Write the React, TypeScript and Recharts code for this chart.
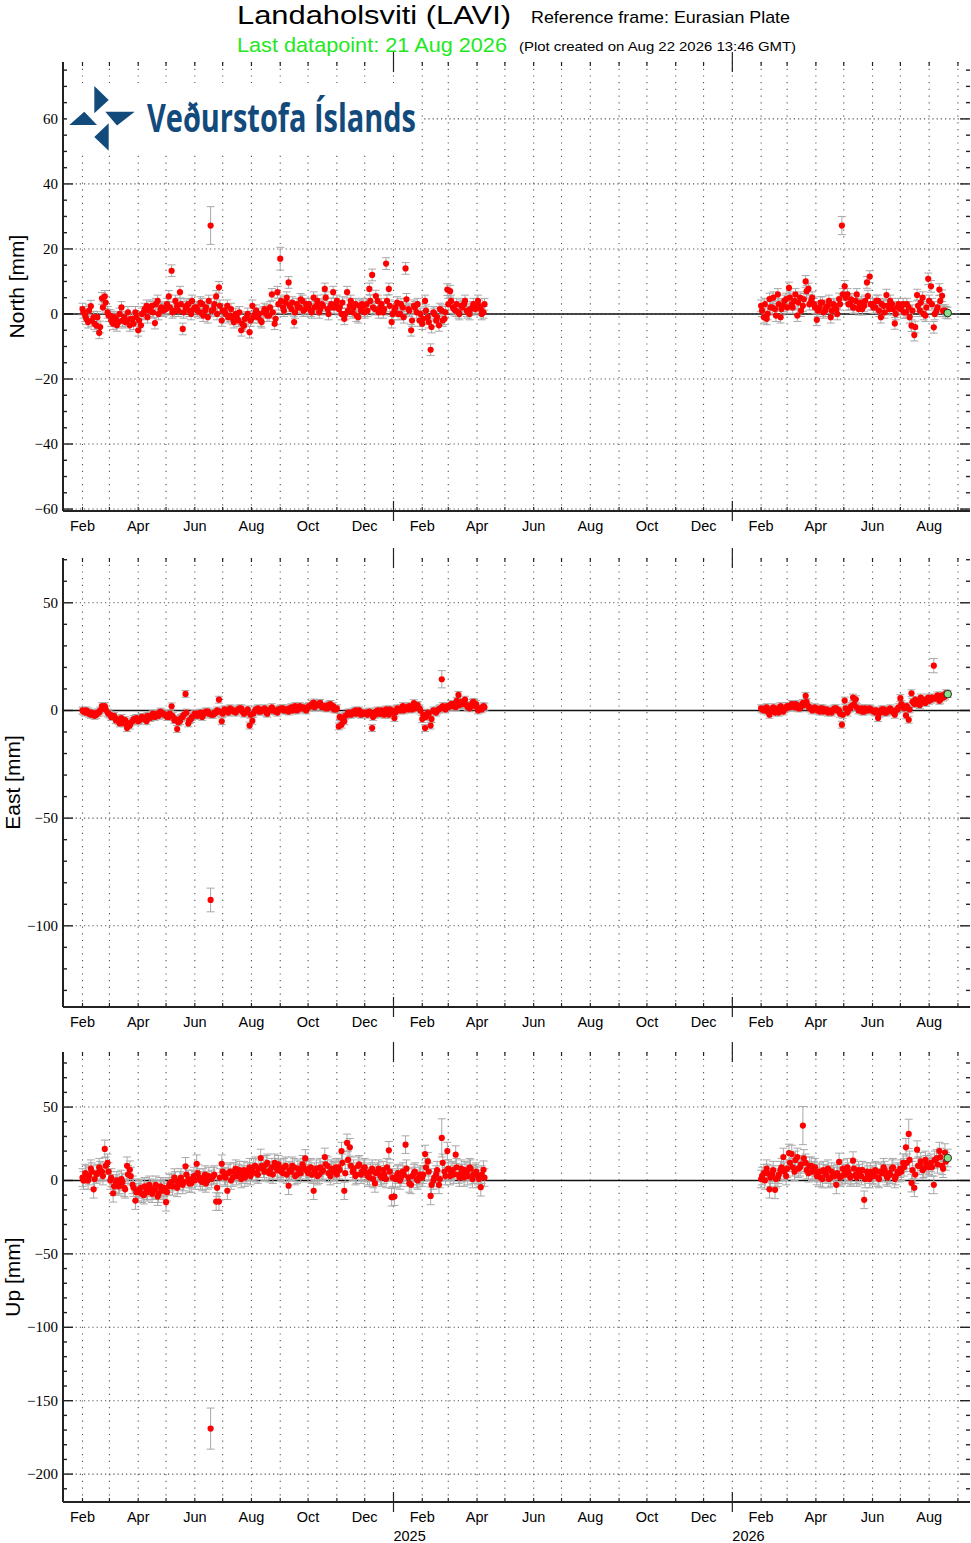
import React from 'react';
import { ScatterChart, Scatter, XAxis, YAxis, ReferenceLine, ErrorBar } from 'recharts';

// ---- time axis ----
const MONTH_NAMES = ['Jan', 'Feb', 'Mar', 'Apr', 'May', 'Jun', 'Jul', 'Aug', 'Sep', 'Oct', 'Nov', 'Dec'];
const SHOWN_MONTHS = ['Feb', 'Apr', 'Jun', 'Aug', 'Oct', 'Dec'];
const X_START = '2024-01-11';
const X_END = '2026-09-14';
const SEG_A_START = '2024-02-01';
const SEG_A2_START = '2024-02-02';
const SEG_B_START = '2026-02-01';
const SEG_B2_START = '2026-02-02';
const STEP_DAYS = 3;
const LAST_DATE = '2026-08-21';

// ---- North [mm] ----
const northA = [
  1.5, -0.5, -2.5, 2.4, -1, -3.6, -5.8, 4.8, 5.4, 0.5,
  -0.5, -3, -1.5, -2.5, 2, -1, -2, -3.5, -1.5, 0.5,
  -5, -3.5, 0.5, 2.5, 1, 2.5, -2.8, 4, 1.5, 1,
  1.5, 5.4, 13.3, 1, 2.5, 6.7, -4.6, 2, 3, 0, 1.5,
  2, 0.5, 3, 1, -1, 27.2, 1.5, 5.4, 8.2, -2,
  1, 2.5, -0.5, -1.5, 0, -2, -5, -3.6, -1, -5.6,
  2.5, 0, -1, -2, 0.5, 1, -0.5, 6, -3, 6.7,
  17, 2, 3.5, 9.7, 1.5, -2.5, 3, 2, 4, 1.5,
  2, 1, 5, 2.5, 0.5, 3, 7.7, 1.5, 2, 6.7, 3,
  1.5, 0, -1.5, 6.7, 2.5, 0.5, 3, -1, 1, 2.5,
  3, 7.7, 12, 1.5, 4, 2, 0.5, 15.5, 7.7, -2.5,
  1, 3.5, 0, 2, 14, 1.5, -5, 2.5, 0.5, -2,
  -3, 4, -1, -11, 0.5, -2, -3.5, 1, -1.5, 7.5,
  7, 2, 1, 0.5, 2.5, 3, 1, 0, 2, 1.5,
  4, 1.5, 0.5,
];
const northA2 = [
  0.5, -1.5, 1, -2, -3, -1, -4, 2, 3.5, -0.5,
  -2, -1, -3.5, 0, -2, -2.5, 0.5, -1.5, -3, -1,
  -2, 0, 1.5, -1, 2, 0.5, 3, 0, 2, 1.5,
  3, 2, 0.5, 4, 1, 3, 0.5, 2.5, 1, 4, 2,
  1, 3.5, -0.5, 2, 4, 1, 3, 0, 2.5, 1,
  0, -1, 1.5, -2.5, -1, 0.5, -3, -1.5, 0, -2,
  -1, 1, 0, -2.5, 1.5, -0.5, 2, 0.5, -1.5, 3,
  4, 1, 5, 2.5, 3.5, 0.5, 2, 4.5, 1, 3,
  3, 0.5, 2, 4, 1.5, 2.5, 5, 0, 3, 2, 4,
  2, 3.5, 0, 1, 4, 2, -0.5, 2.5, 3, 0.5,
  1, 4, 2, 5.5, 0.5, 3, 1.5, 4, 2.5, 0,
  2, 0, 3, -1, 4.5, 1, -2, 2, 3, 0,
  -1.5, 1, -2.5, -4, 0, -1, 1.5, -2, 0.5, 3,
  4, 1.5, 3, 0, 2, 4, 0.5, 1.5, 3, 2,
  2.5, 0, 3,
];
const northB = [
  2.5, -1, -1.5, 4.6, 2, 1.5, 6, -1, 2.5, 4.6,
  8, 3, 4, -0.5, 5, 2.5, 10, 7.7, 4, 3,
  -1.8, 2, 3.5, 1, 2.5, -1, 3, 1.5, 4.6, 27.2,
  8.5, 6, 3, 2, 4, 1.5, 3.5, 2.5, 9.7, 11.5,
  3, 2, 4, -1, 2.5, 5.8, 1.5, 3, -2.9, 2,
  1.5, 3, 0.5, 2, -3.6, -6.5, 5.8, 1, 5, -0.5, 10.8,
  8.5, -4.1, 1, 7.5, 5.6, 1,
];
const northB2 = [
  1, 3, 0, 2, 5, -0.5, 3, 1.5, 4, 2,
  5, 2, 6, 3.5, 1, 4.5, 7, 3, 5, 2,
  1, 3.5, 0.5, 2, 4, 1, 2.5, 0, 3, 6,
  5, 3, 4.5, 2, 6, 3, 1.5, 4, 5.5, 3,
  2, 4, 1, 3, 0.5, 2.5, 4, 1.5, 0, 3,
  2, 0.5, 3, -1, 1, -4, 2.5, 3.5, 0, 2, 4,
  3, 0, 2, 4, 1, 0.5,
];

// ---- East [mm] ----
const eastA = [
  0, -1, -0.5, -2, -1.5, -2, -1, 2, 2, -1,
  -2, -3, -4.5, -5, -3.5, -6, -8.2, -7, -5, -4,
  -5, -4, -3.5, -5, -3, -2, -3, -1.5, -0.5, -1.5,
  -2, -3, 1.9, -4.5, -8.6, -5, -3, 7.7, -6, -4, -2.5,
  -1.5, -2, -3, -1, -0.5, -88, -2, -1, 5, -5,
  0.5, -0.5, 1, 0, -1, 0.5, 1, -1.5, -0.5, -7,
  -4.8, 0, 1, -0.5, 0.5, -1, 0, 1.5, 0, -1,
  0.5, 1, 0, -0.5, 1.5, 1, 0, 2, 1, 0.5,
  1.5, 2, 3.7, 2.5, 3, 1.5, 2, 1, 3, 2, 0.5,
  -7.4, -6.6, -5, -2, -1, -1.5, 0, -0.5, -2, -1,
  -1, -0.5, -8.2, -2, 0, -1.5, -1, 0.5, -2, 0,
  -3.5, 1, 0, 2, 1, 0.5, 1.5, 3.4, 2, 1,
  -4, -8.2, -1, -7, 0, -1, 0.5, 14.5, 1, 2,
  2, 3, 1.5, 7.2, 4, 3, 2.5, 1, 3.5, 2,
  0, 1, 2,
];
const eastA2 = [
  -0.5, 0, -1.5, -1, -2.5, -1, 0, 1, 0.5, -1.5,
  -3, -2.5, -4, -6, -5, -4.5, -6.5, -5.5, -4, -3.5,
  -4.5, -3, -4, -2.5, -3.5, -1.5, -2, -2.5, -1, -2,
  -3, -1.5, -2.5, -4, -5.5, -3.5, -2, -1, -4.5, -3, -1.5,
  -2.5, -1, -2, -0.5, -1.5, -2, -1, 0, -0.5, -1.5,
  0, -1, 0.5, -0.5, 0, 1, -0.5, -1, 0.5, -2,
  -1.5, 0.5, -0.5, 0, 1, -1.5, 0.5, 0, -0.5, 0.5,
  1, 0, 0.5, 1, 0, 2, 0.5, 1, 1.5, 0,
  2, 3, 1.5, 2.5, 3.5, 2, 1, 2.5, 1.5, 0.5, 1,
  -3, -4, -2.5, -1, -2, -0.5, -1.5, 0, -1, -1.5,
  -2, -1, -3, -0.5, -1.5, 0, -2, -1, 0.5, -1,
  -1, 0.5, 1, 0, 1.5, 2, 0.5, 1, 2.5, 0,
  -2, -3, -1.5, -4, -0.5, 0, 1, 2, 0.5, 1.5,
  3, 2, 4.5, 2.5, 3, 5, 1.5, 2, 4, 3,
  1, 0.5, 1.5,
];
const eastB = [
  1, 0, 1.5, -2, 0.5, -1, 1, 2, -0.5, 1,
  2, 3, 1.5, 2.5, 1, 3.5, 6.8, 2, 1, 0.5,
  0.5, -0.5, 1, 0, -1, -0.5, 0.5, 1, 0, -6.6,
  4.6, -1, 1, 6, 5.2, 0, 1, -0.5, 0.5, 1,
  0, -1, -3.5, -0.5, 0.5, -1, 0, -0.5, -2, 0.5,
  5.7, 2, -2.3, -4.3, 8, 3, 4, 2.5, 5, 3.5, 6,
  5, 20.8, 6, 4.5, 7, 6.5,
];
const eastB2 = [
  0.5, 1, -0.5, 0, 1.5, 0, -1, 0.5, 1, 2,
  1.5, 2.5, 3, 1, 2, 2.5, 4, 1, 0, 1.5,
  0, 1, -0.5, 0.5, 0, -1, 1, 0, -1.5, -2,
  1, 0.5, 2, 3, 1.5, 0.5, -0.5, 1, 0, 0.5,
  -0.5, 0, -1.5, 0.5, -1, 0, 1, -0.5, 0, 1.5,
  3, 1, 2, 0.5, 4, 5, 3, 6, 4, 5, 4.5,
  6, 5.5, 7, 5, 6, 8,
];

// ---- Up [mm] ----
const upA = [
  2, 5, 0, 8, -6, 4, 9, 6, 21.5, 12,
  0, -8.7, -2, -4, 1, -5, 10, 7.3, -3, -13.7,
  -8, -5, -10, -7, -3, -9, -6, -11, -4, -7,
  -14.8, -4, -1, 2, -5, 0, -3, 9.6, 1, -2, 3,
  11.4, 2, -1, 4, 0, -169, 3, -14.4, -14.4, 11.4,
  3, -7, 6, 2, 8, 5, 1, 7, 4, 9,
  6, 10, 4, 15.3, 8, 11, 5, 9, 12, 7,
  8, 5, 10, -3.6, 6, 9, 4, 7, 11, 15,
  5, 9, -7, 8, 4, 6, 16, 10, 3, 7, 9,
  9, 20, -7, 25.6, 22.6, 6, 3, 10, 4, 8,
  5, 2, 8, -2, 6, 3, 7, 1, 20.5, -11.4,
  -11, 4, 0, 6, 24.4, 2, -3, 5, 1, 3,
  2, 18, 13, -10.5, 0, 4, -3, 29, 6, 20,
  3, 7, 17.6, 4, 8, 2, 6, 9, 1, 5,
  3, -4.6, 7.3,
];
const upA2 = [
  0, 4, 3, 6, 1, 5, 7, 3, 10, 6,
  2, -4, 0, -3, -1, -6, 4, 3, -5, -8,
  -6, -9, -4, -8, -5, -7, -3, -9, -6, -5,
  -8, -2, -4, 0, -3, 2, -1, 4, -2, 1, 0,
  5, 0, 2, -2, 3, 1, 4, -5, 2, 6,
  2, 5, 0, 6, 3, 7, 4, 2, 6, 3,
  9, 5, 8, 10, 6, 12, 7, 4, 9, 11,
  6, 9, 4, 7, 10, 3, 8, 5, 9, 7,
  8, 4, 6, 3, 9, 7, 11, 5, 8, 6, 4,
  7, 12, 5, 14, 10, 8, 4, 11, 6, 9,
  3, 6, 1, 5, 8, 2, 4, 9, 6, 2,
  1, 5, 2, 4, 8, -2, 3, 6, 0, 4,
  4, 9, 6, -3, 2, 7, 1, 12, 3, 8,
  6, 4, 9, 2, 5, 7, 3, 8, 4, 6,
  1, 4, 2,
];
const upB = [
  1, 5, 8, -6, 4, -6.4, 2, 7, 16, 3,
  18.7, 18, 6, 16, 9, 37.4, 12, 5, 10, 7,
  3, 6, 1, 5, 8, 2, 4, -3, 12.6, 3,
  5, 9, 2, 13.5, 4, 7, 3, -13.2, 6, 1,
  4, 7, 2, 6, 9, 3, 5, 8, 1, 6,
  8, 12, 22.6, 31.7, -1.8, -5, 21, 10, 7, 14, 9,
  12, -3, 15, 20, 10, 19,
];
const upB2 = [
  3, 0, 5, 2, 7, 1, 4, 9, 6, 8,
  12, 9, 14, 8, 11, 15, 7, 10, 6, 9,
  5, 2, 7, 4, 1, 6, 3, 5, 2, 8,
  4, 6, 3, 8, 2, 5, 7, 1, 4, 6,
  3, 6, 1, 5, 7, 2, 4, 9, 3, 5,
  6, 9, 12, 14, 7, 4, 10, 13, 8, 11, 10,
  9, 14, 11, 16, 8, 13,
];

// last datapoint (green) and error bar half-widths
const lastNorth = 0.3;
const lastEast = 7.6;
const lastUp = 15.3;
const northErr = 1.8;
const eastErr = 1.6;
const upErr = 6;
const northErrWide: [string, number][] = [['2024-06-18', 5.8], ['2024-09-01', 3.5], ['2026-04-29', 2.8]];
const eastErrWide: [string, number][] = [['2024-06-18', 5.5], ['2025-02-22', 4], ['2026-08-06', 3.3]];
const upErrWide: [string, number][] = [['2024-06-18', 14], ['2025-02-22', 13], ['2026-03-18', 13], ['2026-07-10', 10]];

// ---- helpers ----
const DAY = 86400000;
const EPOCH = Date.UTC(2025, 0, 1);
const dayNum = (s: string) => Math.round((Date.parse(s + 'T00:00:00Z') - EPOCH) / DAY);
const X0 = dayNum(X_START);
const X1 = dayNum(X_END);

const monthTicks: number[] = [];
for (let y = 2024; y <= 2026; y++) {
  for (let m = 0; m < 12; m++) {
    const t = Math.round((Date.UTC(y, m, 1) - EPOCH) / DAY);
    if (t > X0 && t < X1) monthTicks.push(t);
  }
}
const tickDate = (t: number) => new Date(EPOCH + t * DAY);

type Row = { t: number; v: number; e: number };
function rows(start: string, vals: number[], err: number, wide: [string, number][]): Row[] {
  const s = dayNum(start);
  const w = new Map(wide.map(([d, e]) => [dayNum(d), e]));
  return vals.map((v, i) => {
    const t = s + STEP_DAYS * i;
    return { t, v, e: w.get(t) ?? err };
  });
}

const FRAME = '#222';
const GRID = '#555';
const SERIF = "'Liberation Serif', 'Times New Roman', serif";
const SANS = "'Liberation Sans', Arial, sans-serif";

const redDot = (p: any) => <circle cx={p.cx} cy={p.cy} r={3.1} fill="#ff0000" />;
const greenDot = (p: any) => <circle cx={p.cx} cy={p.cy} r={3.8} fill="#86e086" stroke="#2b2b2b" strokeWidth={1} />;

const monthShape = (yearStart: boolean) => (p: any) => {
  const x = p.x1;
  const top = Math.min(p.y1, p.y2);
  const bot = Math.max(p.y1, p.y2);
  const inner = yearStart ? 10 : 4;
  const outer = yearStart ? 10 : 0;
  return (
    <g>
      <line x1={x} x2={x} y1={top} y2={bot} stroke={GRID} strokeWidth={1.1} strokeDasharray="1.2 5.5" />
      <line x1={x} x2={x} y1={top - outer} y2={top + inner} stroke={FRAME} strokeWidth={1.2} />
      <line x1={x} x2={x} y1={bot - inner} y2={bot + outer} stroke={FRAME} strokeWidth={1.2} />
    </g>
  );
};

const yShape = (major: boolean) => (p: any) => {
  const l = Math.min(p.x1, p.x2);
  const r = Math.max(p.x1, p.x2);
  const y = p.y1;
  const len = major ? 10 : 4;
  return (
    <g>
      {major && <line x1={l} x2={r} y1={y} y2={y} stroke={GRID} strokeWidth={1.1} strokeDasharray="1.2 3" />}
      <line x1={l} x2={l + len} y1={y} y2={y} stroke={FRAME} strokeWidth={1.4} />
      <line x1={r - len} x2={r} y1={y} y2={y} stroke={FRAME} strokeWidth={1.4} />
    </g>
  );
};

type PanelCfg = {
  title: string;
  titleX: number;
  top: number;
  height: number;
  marginTop: number;
  axisHeight: number;
  domain: [number, number];
  major: number[];
  minorFrom: number;
  minorTo: number;
  minorStep: number;
  a: number[];
  a2: number[];
  b: number[];
  b2: number[];
  last: number;
  err: number;
  wide: [string, number][];
  years: boolean;
};

const PANELS: PanelCfg[] = [
  {
    title: 'North [mm]', titleX: 16, top: 0, height: 545, marginTop: 62, axisHeight: 34,
    domain: [-60.6, 77.5], major: [-60, -40, -20, 0, 20, 40, 60], minorFrom: -60, minorTo: 75, minorStep: 5,
    a: northA, a2: northA2, b: northB, b2: northB2, last: lastNorth, err: northErr, wide: northErrWide, years: false,
  },
  {
    title: 'East [mm]', titleX: 12, top: 545, height: 496, marginTop: 13, axisHeight: 34,
    domain: [-137.7, 70.8], major: [-100, -50, 0, 50], minorFrom: -130, minorTo: 70, minorStep: 10,
    a: eastA, a2: eastA2, b: eastB, b2: eastB2, last: lastEast, err: eastErr, wide: eastErrWide, years: false,
  },
  {
    title: 'Up [mm]', titleX: 12, top: 1041, height: 502, marginTop: 11, axisHeight: 41,
    domain: [-219, 87.5], major: [-200, -150, -100, -50, 0, 50], minorFrom: -210, minorTo: 80, minorStep: 10,
    a: upA, a2: upA2, b: upB, b2: upB2, last: lastUp, err: upErr, wide: upErrWide, years: true,
  },
];

function Panel({ cfg }: { cfg: PanelCfg }) {
  const series = [
    rows(SEG_A_START, cfg.a, cfg.err, cfg.wide),
    rows(SEG_A2_START, cfg.a2, cfg.err, cfg.wide),
    rows(SEG_B_START, cfg.b, cfg.err, cfg.wide),
    rows(SEG_B2_START, cfg.b2, cfg.err, cfg.wide),
  ];
  const lastRow = [{ t: dayNum(LAST_DATE), v: cfg.last, e: cfg.err }];
  const yTicks: number[] = [];
  for (let v = cfg.minorFrom; v <= cfg.minorTo; v += cfg.minorStep) yTicks.push(v);
  const axisLine = { stroke: FRAME, strokeWidth: 2 };

  const xTick = (p: any) => {
    const d = tickDate(p.payload.value);
    const name = MONTH_NAMES[d.getUTCMonth()];
    const show = SHOWN_MONTHS.includes(name);
    return (
      <g>
        {show && (
          <text x={p.x} y={p.y + 20} textAnchor="middle" fontSize={14.5} fontFamily={SANS} style={{ fontFamily: SANS }} fill="#000">
            {name}
          </text>
        )}
        {cfg.years && d.getUTCMonth() === 0 && (
          <text x={p.x} y={p.y + 39} textAnchor="start" fontSize={14.5} fontFamily={SANS} style={{ fontFamily: SANS }} fill="#000">
            {d.getUTCFullYear()}
          </text>
        )}
      </g>
    );
  };

  const yTick = (p: any) => {
    const v = p.payload.value;
    if (!cfg.major.includes(v)) return <g />;
    return (
      <text x={p.x - 5} y={p.y + 5} textAnchor="end" fontSize={15} fontFamily={SERIF} style={{ fontFamily: SERIF }} fill="#000">
        {String(v).replace('-', '\u2212')}
      </text>
    );
  };

  const titleLabel = (lp: any) => {
    const vb = lp && lp.viewBox;
    if (!vb) return null;
    const cx = vb.x + cfg.titleX;
    const cy = vb.y + vb.height / 2;
    return (
      <text
        transform={`translate(${cx},${cy}) rotate(-90)`}
        textAnchor="middle"
        dominantBaseline="central"
        fontSize={21}
        fontFamily={SANS}
        style={{ fontFamily: SANS }}
        fill="#000"
      >
        {cfg.title}
      </text>
    );
  };

  return (
    <div style={{ position: 'absolute', left: 0, top: cfg.top }}>
      <ScatterChart width={971} height={cfg.height} margin={{ top: cfg.marginTop, right: 1, bottom: 0, left: 0 }}>
        <XAxis
          type="number"
          dataKey="t"
          domain={[X0, X1]}
          allowDataOverflow
          ticks={monthTicks}
          interval={0}
          tickSize={0}
          tickMargin={0}
          tickLine={false}
          axisLine={axisLine}
          height={cfg.axisHeight}
          tick={xTick}
        />
        <XAxis xAxisId="top" orientation="top" type="number" domain={[X0, X1]} allowDataOverflow height={0} tick={false} tickLine={false} axisLine={axisLine} />
        <YAxis
          type="number"
          dataKey="v"
          domain={cfg.domain}
          allowDataOverflow
          ticks={yTicks}
          interval={0}
          width={63}
          tickSize={0}
          tickMargin={0}
          tickLine={false}
          axisLine={axisLine}
          tick={yTick}
          label={{ value: cfg.title, content: titleLabel }}
        />
        <YAxis yAxisId="right" orientation="right" type="number" domain={cfg.domain} allowDataOverflow width={0} tick={false} tickLine={false} axisLine={axisLine} />
        {monthTicks.map((t) => (
          <ReferenceLine key={'m' + t} x={t} stroke="none" shape={monthShape(tickDate(t).getUTCMonth() === 0)} />
        ))}
        {yTicks.map((v) => (
          <ReferenceLine key={'y' + v} y={v} stroke="none" shape={yShape(cfg.major.includes(v))} />
        ))}
        <ReferenceLine y={0} stroke="#111" strokeWidth={1.6} />
        {series.map((data, k) => (
          <Scatter key={k} data={data} fill="#ff0000" shape={redDot} isAnimationActive={false}>
            <ErrorBar dataKey="e" direction="y" width={4} stroke="#a8a8a8" strokeWidth={1} />
          </Scatter>
        ))}
        <Scatter data={lastRow} fill="#86e086" shape={greenDot} isAnimationActive={false}>
          <ErrorBar dataKey="e" direction="y" width={4} stroke="#a8a8a8" strokeWidth={1} />
        </Scatter>
      </ScatterChart>
    </div>
  );
}

const BLUE = '#134a7c';

export default function App() {
  return (
    <div style={{ position: 'absolute', left: 0, top: 0, width: 971, height: 1543, background: '#fff' }}>
      {PANELS.map((cfg) => (
        <Panel key={cfg.title} cfg={cfg} />
      ))}
      <svg width={971} height={1543} style={{ position: 'absolute', left: 0, top: 0, pointerEvents: 'none' }}>
        <g fontFamily={SANS} style={{ fontFamily: SANS }}>
          <text x={237} y={24} fontSize={26} textLength={274} lengthAdjust="spacingAndGlyphs" fill="#000">
            Landaholsviti (LAVI)
          </text>
          <text x={531} y={23} fontSize={17} textLength={259} lengthAdjust="spacingAndGlyphs" fill="#000">
            Reference frame: Eurasian Plate
          </text>
          <text x={237} y={52} fontSize={20.5} textLength={270} lengthAdjust="spacingAndGlyphs" fill="#22e822">
            Last datapoint: 21 Aug 2026
          </text>
          <text x={519} y={51} fontSize={13.5} textLength={277} lengthAdjust="spacingAndGlyphs" fill="#000">
            (Plot created on Aug 22 2026 13:46 GMT)
          </text>
        </g>
        <rect x={67} y={83} width={354} height={69} fill="#fff" />
        <g fill={BLUE}>
          <polygon points="94.3,86 108.7,100 94.3,113.3" />
          <polygon points="105.3,111.7 134.7,111.7 117,125.5" />
          <polygon points="69.3,125 97,125 84.3,111.7" />
          <polygon points="108.7,123.3 108.7,150.7 94.3,137" />
        </g>
        <text
          x={147}
          y={131.5}
          fontFamily="'Open Sans', 'Liberation Sans', sans-serif"
          fontWeight={700}
          fontSize={38.5}
          textLength={269}
          lengthAdjust="spacingAndGlyphs"
          fill={BLUE}
        >
          Veðurstofa Íslands
        </text>
      </svg>
    </div>
  );
}
